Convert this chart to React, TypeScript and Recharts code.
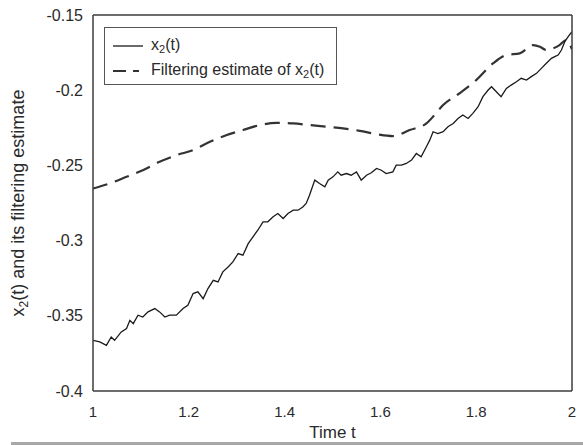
import React from 'react';
import { LineChart, Line, XAxis, YAxis, Legend } from 'recharts';

const solidT = [1.000, 1.014, 1.028, 1.038, 1.045, 1.059, 1.070, 1.077, 1.084, 1.094, 1.104, 1.115, 1.129, 1.139, 1.150, 1.160, 1.174, 1.188, 1.198, 1.209, 1.219, 1.230, 1.240, 1.251, 1.261, 1.271, 1.282, 1.292, 1.303, 1.313, 1.324, 1.334, 1.344, 1.355, 1.365, 1.376, 1.386, 1.397, 1.407, 1.418, 1.428, 1.438, 1.445, 1.452, 1.463, 1.473, 1.484, 1.491, 1.501, 1.511, 1.518, 1.529, 1.539, 1.550, 1.560, 1.571, 1.581, 1.592, 1.602, 1.612, 1.626, 1.633, 1.644, 1.654, 1.665, 1.675, 1.685, 1.696, 1.703, 1.710, 1.720, 1.731, 1.741, 1.752, 1.762, 1.772, 1.783, 1.793, 1.804, 1.814, 1.825, 1.832, 1.842, 1.852, 1.863, 1.873, 1.884, 1.894, 1.905, 1.915, 1.926, 1.936, 1.946, 1.957, 1.964, 1.971, 1.978, 1.985, 1.992, 2.000];
const solidV = [-0.3663, -0.3674, -0.3696, -0.3641, -0.3663, -0.3607, -0.3585, -0.3530, -0.3552, -0.3496, -0.3508, -0.3474, -0.3452, -0.3474, -0.3508, -0.3496, -0.3496, -0.3452, -0.3430, -0.3352, -0.3341, -0.3386, -0.3319, -0.3264, -0.3275, -0.3208, -0.3175, -0.3142, -0.3086, -0.3097, -0.3020, -0.2975, -0.2931, -0.2875, -0.2875, -0.2842, -0.2820, -0.2853, -0.2820, -0.2798, -0.2798, -0.2776, -0.2753, -0.2698, -0.2598, -0.2620, -0.2642, -0.2598, -0.2576, -0.2543, -0.2565, -0.2554, -0.2565, -0.2543, -0.2598, -0.2565, -0.2549, -0.2520, -0.2532, -0.2554, -0.2543, -0.2498, -0.2498, -0.2487, -0.2465, -0.2421, -0.2443, -0.2376, -0.2332, -0.2276, -0.2288, -0.2276, -0.2243, -0.2221, -0.2188, -0.2165, -0.2188, -0.2154, -0.2110, -0.2043, -0.1999, -0.1977, -0.2010, -0.2043, -0.1988, -0.1966, -0.1944, -0.1921, -0.1933, -0.1910, -0.1888, -0.1855, -0.1822, -0.1788, -0.1777, -0.1766, -0.1733, -0.1677, -0.1644, -0.1611];

const dashT = [1.000, 1.035, 1.070, 1.104, 1.139, 1.174, 1.209, 1.244, 1.278, 1.313, 1.348, 1.383, 1.418, 1.452, 1.487, 1.522, 1.557, 1.592, 1.626, 1.661, 1.696, 1.713, 1.731, 1.765, 1.800, 1.835, 1.863, 1.891, 1.919, 1.933, 1.946, 1.960, 1.974, 1.988, 2.000];
const dashV = [-0.2654, -0.2620, -0.2576, -0.2532, -0.2476, -0.2432, -0.2398, -0.2343, -0.2299, -0.2265, -0.2232, -0.2217, -0.2221, -0.2232, -0.2243, -0.2254, -0.2270, -0.2292, -0.2305, -0.2265, -0.2221, -0.2165, -0.2099, -0.2021, -0.1933, -0.1822, -0.1766, -0.1755, -0.1700, -0.1711, -0.1733, -0.1722, -0.1700, -0.1666, -0.1728];

const xTicks = [1, 1.2, 1.4, 1.6, 1.8, 2];
const yTicks = [-0.4, -0.35, -0.3, -0.25, -0.2, -0.15];

const solidData = solidT.map((t, i) => ({ t, v: solidV[i] }));
const dashData = dashT.map((t, i) => ({ t, v: dashV[i] }));

const FONT = '"Liberation Sans", Arial, Helvetica, sans-serif';
const AX = '#3c3c3c';
const TXT = '#2a2a2a';

const LegendBox = () => (
  <div
    style={{
      width: 233,
      height: 58,
      boxSizing: 'border-box',
      border: '1px solid #555',
      background: '#fff',
      fontFamily: FONT,
      fontSize: 16,
      color: TXT,
      position: 'relative',
    }}
  >
    <svg width={30} height={4} style={{ position: 'absolute', left: 8, top: 16 }}>
      <line x1={0} y1={2} x2={30} y2={2} stroke="#1a1a1a" strokeWidth={1.3} />
    </svg>
    <div style={{ position: 'absolute', left: 46, top: 7, lineHeight: '20px', whiteSpace: 'nowrap' }}>
      x<sub style={{ fontSize: 11, verticalAlign: '-3px' }}>2</sub>(t)
    </div>
    <svg width={26} height={4} style={{ position: 'absolute', left: 8, top: 41 }}>
      <line x1={0} y1={2} x2={26} y2={2} stroke="#333" strokeWidth={2} strokeDasharray="13 7" />
    </svg>
    <div style={{ position: 'absolute', left: 46, top: 32, lineHeight: '20px', whiteSpace: 'nowrap' }}>
      Filtering estimate of x<sub style={{ fontSize: 11, verticalAlign: '-3px' }}>2</sub>(t)
    </div>
  </div>
);

const YLabel = (props: any) => {
  const vb = props.viewBox || {};
  const cx = (vb.x ?? 0) + 24;
  const cy = (vb.y ?? 0) + (vb.height ?? 0) / 2;
  return (
    <text
      x={cx}
      y={cy}
      transform={`rotate(-90, ${cx}, ${cy})`}
      textAnchor="middle"
      fontFamily={FONT}
      fontSize={18}
      fill={TXT}
    >
      <tspan>x</tspan>
      <tspan dy={4} fontSize={12}>2</tspan>
      <tspan dy={-4}>(t) and its filtering estimate</tspan>
    </text>
  );
};

const XLabel = (props: any) => {
  const vb = props.viewBox || {};
  const cx = (vb.x ?? 0) + (vb.width ?? 0) / 2;
  const y = (vb.y ?? 0) + 47;
  return (
    <text x={cx} y={y} textAnchor="middle" fontFamily={FONT} fontSize={17} fill={TXT}>
      Time t
    </text>
  );
};

export default function App() {
  return (
    <div style={{ position: 'absolute', left: 0, top: 0, width: 583, height: 445, background: '#fff', overflow: 'hidden' }}>
      <LineChart width={583} height={445} margin={{ top: 15, right: 11, left: 0, bottom: 0 }}>
        <XAxis
          xAxisId="x"
          dataKey="t"
          type="number"
          domain={[1, 2]}
          ticks={xTicks}
          allowDataOverflow
          tickLine={false}
          axisLine={{ stroke: AX, strokeWidth: 1.5 }}
          tick={{ fontSize: 15, fill: TXT, fontFamily: FONT }}
          tickSize={6}
          tickMargin={9}
          height={54}
          label={<XLabel />}
        />
        <XAxis
          xAxisId="xin"
          orientation="bottom"
          mirror
          type="number"
          domain={[1, 2]}
          ticks={xTicks}
          allowDataOverflow
          tick={false}
          tickSize={5}
          axisLine={false}
          tickLine={{ stroke: AX, strokeWidth: 1.2 }}
        />
        <XAxis
          xAxisId="xtop"
          orientation="top"
          mirror
          type="number"
          domain={[1, 2]}
          ticks={xTicks}
          allowDataOverflow
          tick={false}
          tickSize={5}
          axisLine={{ stroke: AX, strokeWidth: 1.5 }}
          tickLine={{ stroke: AX, strokeWidth: 1.2 }}
        />
        <YAxis
          yAxisId="y"
          type="number"
          domain={[-0.4, -0.15]}
          ticks={yTicks}
          allowDataOverflow
          tickLine={false}
          axisLine={{ stroke: AX, strokeWidth: 1.5 }}
          tick={{ fontSize: 16, fill: TXT, fontFamily: FONT }}
          tickSize={6}
          tickMargin={4}
          width={93}
          label={<YLabel />}
        />
        <YAxis
          yAxisId="yin"
          orientation="left"
          mirror
          type="number"
          domain={[-0.4, -0.15]}
          ticks={yTicks}
          allowDataOverflow
          tick={false}
          tickSize={5}
          axisLine={false}
          tickLine={{ stroke: AX, strokeWidth: 1.2 }}
        />
        <YAxis
          yAxisId="yright"
          orientation="right"
          mirror
          type="number"
          domain={[-0.4, -0.15]}
          ticks={yTicks}
          allowDataOverflow
          tick={false}
          tickSize={5}
          axisLine={{ stroke: AX, strokeWidth: 1.5 }}
          tickLine={{ stroke: AX, strokeWidth: 1.2 }}
        />
        <Legend
          layout="horizontal"
          verticalAlign="middle"
          align="center"
          content={<LegendBox />}
          wrapperStyle={{ position: 'absolute', left: 104, top: 27, width: 233, height: 58 }}
        />
        <Line
          xAxisId="x"
          yAxisId="y"
          data={dashData}
          dataKey="v"
          type="monotone"
          stroke="#333"
          strokeWidth={2.2}
          strokeDasharray="15 8"
          dot={false}
          isAnimationActive={false}
        />
        <Line
          xAxisId="x"
          yAxisId="y"
          data={solidData}
          dataKey="v"
          type="linear"
          stroke="#1a1a1a"
          strokeWidth={1.3}
          dot={false}
          isAnimationActive={false}
        />
      </LineChart>
      <div style={{ position: 'absolute', left: 11, top: 442, width: 572, height: 3, background: '#a8a8a8' }} />
    </div>
  );
}
